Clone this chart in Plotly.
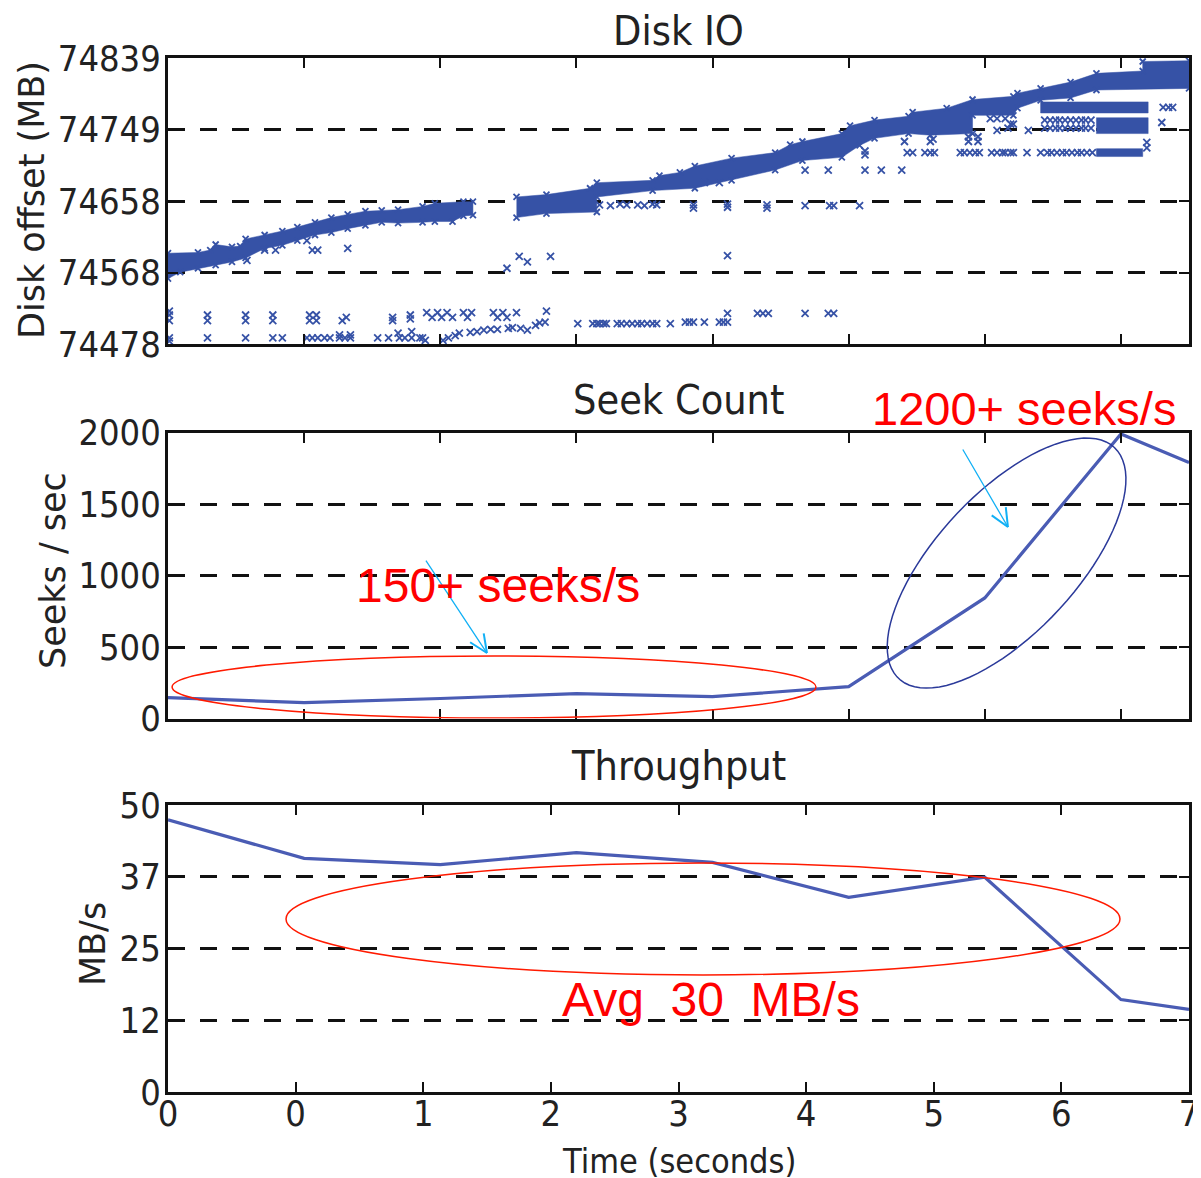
import numpy as np
import plotly.graph_objects as go

# ---------------- data ----------------
# Seek count (seeks/s) and throughput (MB/s) vs time (s)
seek_t = [0, 1, 2, 3, 4, 5, 6, 7, 7.5]
seeks = [146, 111, 140, 174, 153, 223, 843, 1990, 1791]
thr_t = [0, 1, 2, 3, 4, 5, 6, 7, 7.5]
thr = [47.4, 40.7, 39.6, 41.7, 40.0, 33.9, 37.4, 16.1, 14.4]

# Disk IO: dense main band outlines (time s, offset MB)
bandA_t = [0, 0.22, 0.31, 0.35, 0.47, 0.53, 0.57, 0.71, 0.84, 0.95, 1.08, 1.20, 1.32, 1.45, 1.57,
           1.69, 1.87, 1.96, 2.17, 2.24,
           2.24, 2.17, 2.09, 1.96, 1.87, 1.69, 1.57, 1.45, 1.32, 1.20, 1.08, 0.95, 0.84, 0.71,
           0.57, 0.47, 0.35, 0.22, 0.09, 0]
bandA_mb = [74593, 74594, 74597, 74604, 74601, 74602, 74611, 74616, 74621, 74626, 74632, 74638, 74642,
            74646, 74647, 74648, 74652, 74656, 74658, 74658,
            74641, 74640, 74633, 74633, 74632, 74631, 74632, 74628, 74624, 74619, 74616, 74609, 74603,
            74599, 74587, 74582, 74578, 74574, 74569, 74561]
bandB_t = [2.56, 2.78, 3.10, 3.15, 3.56, 3.61, 3.76, 3.87, 4.14, 4.46, 4.57, 4.66, 4.95, 5.01, 5.19,
           5.44, 5.47, 5.72, 5.91, 6.21, 6.24, 6.41, 6.63, 6.82, 7.16, 7.16, 7.5, 7.5,
           6.82, 6.63, 6.41, 6.24, 6.21, 5.91, 5.91, 5.60, 5.44, 5.19, 5.08, 4.95, 4.66, 4.46,
           4.14, 3.87, 3.56, 3.15, 3.15, 2.78, 2.56]
bandB_mb = [74664, 74667, 74675, 74682, 74685, 74691, 74695, 74703, 74713, 74720, 74730, 74734, 74744,
            74754, 74761, 74766, 74771, 74776, 74787, 74791, 74795, 74801, 74809, 74820, 74823,
            74835, 74836, 74801,
            74799, 74789, 74786, 74776, 74767, 74767, 74744, 74742, 74744, 74738, 74729, 74714,
            74710, 74698, 74685, 74675, 74672, 74664, 74645, 74643, 74638]

# Disk IO: solid blocks of requests at the end (t0, t1, mb0, mb1)
blk_t0 = [6.41, 6.82, 6.82]
blk_t1 = [7.20, 7.20, 7.16]
blk_mb0 = [74770, 74744, 74715]
blk_mb1 = [74784, 74764, 74725]

# Disk IO: individual requests (time s, offset MB)
io_points = [
    (0.58, 74584), (0.71, 74597), (0.79, 74597), (1.02, 74609), (1.06, 74597), (1.10, 74597),
    (1.32, 74599),
    (2.49, 74574), (2.58, 74589), (2.64, 74582), (2.81, 74589),
    (3.17, 74654), (3.25, 74653), (3.32, 74655), (3.37, 74654), (3.45, 74654), (3.50, 74653),
    (3.56, 74655), (3.59, 74654), (3.86, 74654), (3.86, 74650), (4.11, 74655), (4.11, 74651),
    (4.40, 74654), (4.40, 74650), (4.68, 74653), (4.86, 74653), (4.89, 74653), (5.08, 74653),
    (4.11, 74590), (3.94, 74682), (4.05, 74682),
    (4.68, 74698), (4.85, 74698), (5.12, 74698), (5.24, 74698), (5.39, 74698),
    (5.12, 74717), (5.12, 74722),
    (5.43, 74720), (5.47, 74720), (5.56, 74720), (5.60, 74720), (5.63, 74720), (5.82, 74720),
    (5.85, 74720), (5.89, 74720), (5.93, 74720), (5.96, 74720), (6.05, 74720), (6.09, 74720),
    (6.13, 74720), (6.15, 74720), (6.19, 74720), (6.21, 74720), (6.31, 74720), (6.41, 74720),
    (6.46, 74720), (6.49, 74720), (6.53, 74720), (6.57, 74720), (6.60, 74720), (6.64, 74720),
    (6.68, 74720), (6.71, 74720), (6.75, 74720), (6.79, 74720), (7.19, 74733), (7.19, 74726),
    (5.41, 74734), (5.60, 74734), (5.62, 74737), (5.88, 74734), (5.95, 74734), (5.88, 74740),
    (5.95, 74740), (6.09, 74748), (6.32, 74748),
    (6.04, 74763), (6.09, 74763), (6.15, 74763), (6.19, 74756), (6.21, 74756), (6.17, 74751),
    (6.44, 74761), (6.48, 74761), (6.52, 74761), (6.55, 74761), (6.59, 74761), (6.63, 74761),
    (6.67, 74761), (6.71, 74761), (6.74, 74761), (6.78, 74761),
    (6.44, 74751), (6.48, 74751), (6.52, 74751), (6.55, 74751), (6.59, 74751), (6.63, 74751),
    (6.67, 74751), (6.71, 74751), (6.74, 74751), (6.78, 74751),
    (7.31, 74777), (7.35, 74777), (7.38, 74777), (7.30, 74758),
    (0.01, 74520), (0.01, 74515), (0.01, 74508), (0.29, 74515), (0.29, 74508), (0.57, 74515),
    (0.57, 74508), (0.77, 74515), (0.77, 74508), (1.04, 74515), (1.04, 74508), (1.09, 74515),
    (1.09, 74508), (1.28, 74508), (1.31, 74512), (1.65, 74512), (1.65, 74508), (1.78, 74515),
    (1.78, 74510),
    (0.01, 74486), (0.01, 74482), (0.29, 74486), (0.57, 74486), (0.77, 74486), (0.84, 74486),
    (1.02, 74486), (1.06, 74486), (1.10, 74486), (1.15, 74486), (1.19, 74486), (1.26, 74486),
    (1.30, 74486), (1.34, 74486), (1.54, 74486), (1.62, 74486), (1.70, 74486), (1.74, 74486),
    (1.79, 74486), (1.87, 74486), (1.69, 74492), (1.79, 74494), (1.26, 74490), (1.34, 74490),
    (1.90, 74518), (1.94, 74512), (1.98, 74518), (2.01, 74512), (2.05, 74518), (2.09, 74512),
    (2.17, 74518), (2.20, 74512), (2.23, 74518), (2.39, 74518), (2.42, 74512), (2.46, 74518),
    (2.49, 74512), (2.56, 74518), (2.78, 74520),
    (1.85, 74486), (1.89, 74483), (2.02, 74483), (2.06, 74486), (2.11, 74489), (2.14, 74492),
    (2.22, 74493), (2.27, 74494), (2.32, 74496), (2.37, 74497), (2.42, 74497), (2.50, 74498),
    (2.53, 74499), (2.59, 74498), (2.64, 74496), (2.70, 74502), (2.73, 74505), (2.77, 74506),
    (3.01, 74504), (3.12, 74504), (3.15, 74504), (3.17, 74504), (3.20, 74504), (3.22, 74504),
    (3.30, 74504), (3.33, 74504), (3.37, 74504), (3.41, 74504), (3.45, 74504), (3.48, 74504),
    (3.52, 74504), (3.56, 74504), (3.59, 74504), (3.69, 74504),
    (3.80, 74506), (3.83, 74506), (3.86, 74506), (3.94, 74506), (4.05, 74506), (4.08, 74506),
    (4.11, 74506), (4.11, 74517), (4.33, 74517), (4.37, 74517), (4.41, 74517), (4.68, 74517),
    (4.85, 74517), (4.89, 74517),
]

# tick labels
io_tickvals = [74478.4, 74568.65, 74658.9, 74749.15, 74839.4]
io_ticktext = ["74478", "74568", "74658", "74749", "74839"]
seek_tickvals = [0, 500, 1000, 1500, 2000]
thr_tickvals = [0, 12.5, 25, 37.5, 50]
thr_ticktext = ["0", "12", "25", "37", "50"]
time_tickvals = [0, 0.9375, 1.875, 2.8125, 3.75, 4.6875, 5.625, 6.5625, 7.5]
time_ticktext = ["0", "0", "1", "2", "3", "4", "5", "6", "7"]

# ---------------- styling ----------------
BLUE = "#3652a6"
LINE_BLUE = "#4a5cb4"
RED = "#ff1a00"
ARROW = "#12b0f5"
NAVY = "#2b3a9a"
TXT = "#222222"
COND = "DejaVu Sans Condensed, DejaVu Sans"

# plot-area pixel scales (used only for annotation geometry)
PX_PER_S = 1021 / 7.5
PX_PER_SEEK = 0.2766 * 1034 / 2000

fig = go.Figure()

# Disk IO
fig.add_trace(go.Scatter(x=bandA_t, y=bandA_mb, mode="lines", fill="toself", fillcolor=BLUE,
                         line=dict(color=BLUE, width=0.5), xaxis="x", yaxis="y", hoverinfo="skip"))
fig.add_trace(go.Scatter(x=bandB_t, y=bandB_mb, mode="lines", fill="toself", fillcolor=BLUE,
                         line=dict(color=BLUE, width=0.5), xaxis="x", yaxis="y", hoverinfo="skip"))
for t0, t1, m0, m1 in zip(blk_t0, blk_t1, blk_mb0, blk_mb1):
    fig.add_trace(go.Scatter(x=[t0, t1, t1, t0, t0], y=[m0, m0, m1, m1, m0], mode="lines",
                             fill="toself", fillcolor=BLUE, line=dict(color=BLUE, width=0.5),
                             xaxis="x", yaxis="y", hoverinfo="skip"))
xmark = dict(symbol="x-thin", size=7, color=BLUE, line=dict(width=1.8, color=BLUE))
fig.add_trace(go.Scatter(x=bandA_t + bandB_t, y=bandA_mb + bandB_mb, mode="markers",
                         marker=dict(xmark, size=6), xaxis="x", yaxis="y"))
fig.add_trace(go.Scatter(x=[p[0] for p in io_points], y=[p[1] for p in io_points], mode="markers",
                         marker=xmark, xaxis="x", yaxis="y"))

# Seek count
fig.add_trace(go.Scatter(x=seek_t, y=seeks, mode="lines", line=dict(color=LINE_BLUE, width=3.2),
                         xaxis="x2", yaxis="y2"))
# Throughput
fig.add_trace(go.Scatter(x=thr_t, y=thr, mode="lines", line=dict(color=LINE_BLUE, width=3.2),
                         xaxis="x3", yaxis="y3"))

axis_line = dict(showline=True, linewidth=3, linecolor="#111111", mirror="ticks", ticks="inside",
                 ticklen=10, tickwidth=1.5, tickcolor="#111111", zeroline=False, automargin=False)
xbase = dict(axis_line, range=[0, 7.5], showgrid=False, domain=[0, 1])
ybase = dict(axis_line, showgrid=True, gridcolor="#111111", gridwidth=3, griddash="17px,15px",
             tickfont=dict(family=COND, size=36, color=TXT), ticklabelstandoff=-3)

# the page shows the figure offset by 8px right and down, so the figure is 8px smaller
fig.update_layout(
    width=1193, height=1170,
    margin=dict(l=160, r=12, t=50, b=86),
    paper_bgcolor="white", plot_bgcolor="white", showlegend=False,
    xaxis=dict(xbase, anchor="y", tickvals=list(range(8)), showticklabels=False),
    xaxis2=dict(xbase, anchor="y2", tickvals=list(range(8)), showticklabels=False),
    xaxis3=dict(xbase, anchor="y3", tickvals=time_tickvals, ticktext=time_ticktext,
                tickfont=dict(family=COND, size=36, color=TXT), ticklabelstandoff=-12),
    yaxis=dict(ybase, domain=[0.7234, 1.0], range=[74478.4, 74839.4], tickvals=io_tickvals,
               ticktext=io_ticktext, anchor="x"),
    yaxis2=dict(ybase, domain=[0.3612, 0.6378], range=[0, 2000], tickvals=seek_tickvals, anchor="x2"),
    yaxis3=dict(ybase, domain=[0, 0.2776], range=[0, 50], tickvals=thr_tickvals,
                ticktext=thr_ticktext, anchor="x3"),
)

# ellipses
fig.add_shape(type="circle", xref="x2", yref="y2", x0=0.03, x1=4.76, y0=3, y1=437,
              line=dict(color=RED, width=1.5), layer="above")
fig.add_shape(type="circle", xref="x3", yref="y3", x0=0.867, x1=6.993, y0=20.4, y1=39.9,
              line=dict(color=RED, width=1.5), layer="above")
# tilted ellipse around the seek ramp (centre, semi-axis vectors in data units)
phi = np.linspace(0, 2 * np.pi, 90)
et = 6.16 + 0.792 * np.cos(phi) - 0.376 * np.sin(phi)
es = 1087 + 808 * np.cos(phi) + 334 * np.sin(phi)
path = "M " + " L ".join(f"{a:.4f},{b:.2f}" for a, b in zip(et, es)) + " Z"
fig.add_shape(type="path", xref="x2", yref="y2", path=path, line=dict(color=NAVY, width=1.5),
              layer="above")

# arrows: shaft as annotation, open "V" head as two short lines
arrows = [  # head (t, seeks), tail offset in px (dx, dy screen)
    (2.343, 458, -62, -94),
    (6.17, 1339, -46, -79),
]
for hx, hy, dx, dy in arrows:
    fig.add_annotation(x=hx, y=hy, xref="x2", yref="y2", ax=dx, ay=dy, text="", showarrow=True,
                       arrowhead=0, arrowwidth=1.3, arrowcolor=ARROW)
    ln = np.hypot(dx, dy)
    ux, uy = dx / ln, dy / ln  # unit vector head -> tail (screen)
    for ang in (np.radians(24), -np.radians(24)):
        bx = 20 * (ux * np.cos(ang) - uy * np.sin(ang))
        by = 20 * (ux * np.sin(ang) + uy * np.cos(ang))
        fig.add_shape(type="line", xref="x2", yref="y2", x0=hx, y0=hy,
                      x1=hx + bx / PX_PER_S, y1=hy - by / PX_PER_SEEK,
                      line=dict(color=ARROW, width=2), layer="above")

# red notes
note_font = dict(family="Liberation Sans, Arial", color="#ff0000")
fig.add_annotation(x=0.8384, y=0.6615, xref="paper", yref="paper", text="1200+ seeks/s",
                   showarrow=False, font=dict(note_font, size=47), xanchor="center", yanchor="middle")
fig.add_annotation(x=0.3232, y=0.4903, xref="paper", yref="paper", text="150+ seeks/s",
                   showarrow=False, font=dict(note_font, size=48), xanchor="center", yanchor="middle")
fig.add_annotation(x=0.5323, y=0.0890, xref="paper", yref="paper",
                   text="Avg\u00a0\u00a030\u00a0\u00a0MB/s",
                   showarrow=False, font=dict(note_font, size=48), xanchor="center", yanchor="middle")

# titles
for txt, yp in [("Disk IO", 1.026), ("Seek Count", 0.6692), ("Throughput", 0.3153)]:
    fig.add_annotation(x=0.5, y=yp, xref="paper", yref="paper", text=txt, showarrow=False,
                       font=dict(family=COND, size=41, color=TXT), xanchor="center", yanchor="middle",
                       borderpad=0)

# axis titles
for txt, xp, yp in [("Disk offset (MB)", -0.1332, 0.8627), ("Seeks / sec", -0.1126, 0.5039),
                    ("MB/s", -0.0734, 0.1431)]:
    fig.add_annotation(x=xp, y=yp, xref="paper", yref="paper", text=txt, showarrow=False,
                       textangle=-90, font=dict(family="DejaVu Sans", size=35, color=TXT),
                       xanchor="center", yanchor="middle")
fig.add_annotation(x=0.5, y=-0.0668, xref="paper", yref="paper", text="Time (seconds)",
                   showarrow=False, font=dict(family=COND, size=34, color=TXT),
                   xanchor="center", yanchor="middle", borderpad=0)

fig.write_html("out.html")
